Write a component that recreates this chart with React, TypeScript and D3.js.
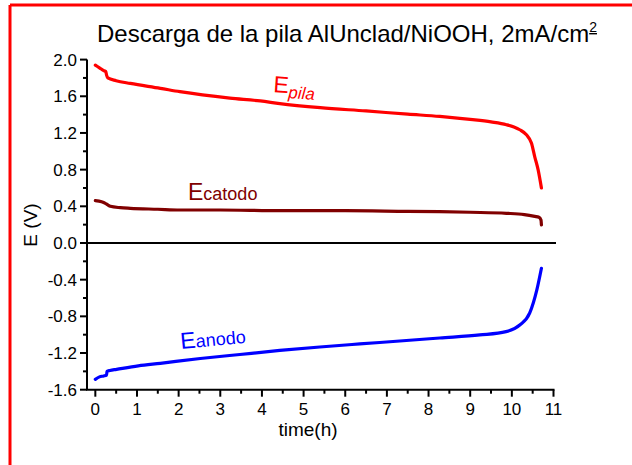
import React from "react";
import * as d3 from "d3";

// Descarga de la pila AlUnclad/NiOOH
const pilaT = [0, 0.1, 0.2, 0.25, 0.27, 0.3, 0.5, 0.84, 1.56, 2.03, 3.23, 3.96, 4.43, 5.4, 6.5, 7.5, 8.27, 8.75, 9.06, 9.5, 9.87, 10.05, 10.19, 10.35, 10.47, 10.55, 10.63, 10.71];
const pilaV = [1.94, 1.91, 1.88, 1.87, 1.83, 1.8, 1.77, 1.74, 1.687, 1.65, 1.58, 1.549, 1.52, 1.476, 1.44, 1.405, 1.38, 1.36, 1.345, 1.32, 1.29, 1.265, 1.235, 1.18, 1.09, 0.94, 0.8, 0.6];

const catodoT = [0, 0.15, 0.24, 0.3, 0.36, 0.6, 0.84, 1.5, 2.03, 3, 4.43, 6, 7.5, 8.27, 9, 9.87, 10.3, 10.55, 10.65, 10.7, 10.71];
const catodoV = [0.461, 0.45, 0.433, 0.415, 0.4, 0.385, 0.378, 0.368, 0.36, 0.36, 0.352, 0.352, 0.345, 0.342, 0.335, 0.324, 0.31, 0.29, 0.28, 0.25, 0.196];

const anodoT = [0, 0.1, 0.2, 0.27, 0.28, 0.35, 0.51, 1.03, 1.56, 2.52, 3.47, 4.43, 5.39, 6.35, 7.31, 8.27, 9.23, 9.86, 10.19, 10.43, 10.6, 10.71];
const anodoV = [-1.487, -1.46, -1.45, -1.44, -1.4, -1.39, -1.378, -1.34, -1.312, -1.26, -1.216, -1.172, -1.134, -1.101, -1.069, -1.036, -1.003, -0.967, -0.894, -0.763, -0.512, -0.276];

const xTicks = [0, 1, 2, 3, 4, 5, 6, 7, 8, 9, 10, 11];
const yTicks = [-1.6, -1.2, -0.8, -0.4, 0.0, 0.4, 0.8, 1.2, 1.6, 2.0];

const W = 632;
const H = 465;
const FONT = "'Liberation Sans', Arial, Helvetica, sans-serif";

export default function App() {
  const x = d3.scaleLinear().domain([-0.2, 11]).range([87, 553.5]);
  const y = d3.scaleLinear().domain([-1.6, 2.0]).range([389.7, 59.6]);

  const line = d3
    .line<[number, number]>()
    .x((d) => x(d[0]))
    .y((d) => y(d[1]))
    .curve(d3.curveMonotoneX);

  const series = [
    { t: pilaT, v: pilaV, color: "#ff0000" },
    { t: catodoT, v: catodoV, color: "#800000" },
    { t: anodoT, v: anodoV, color: "#0000ff" },
  ];

  // ticks menores a medio camino
  const xMinor = xTicks.slice(0, -1).map((d) => d + 0.5);
  const yMinor = yTicks.slice(0, -1).map((d) => +(d + 0.2).toFixed(1));

  const [y0, y1] = y.range();
  const [x0, x1] = x.range();

  return (
    <svg
      width={W}
      height={H}
      style={{ position: "absolute", left: 0, top: 0, background: "#fff" }}
      fontFamily={FONT}
    >
      {/* marco rojo */}
      <line x1={10} y1={5} x2={W} y2={5} stroke="#ff0000" strokeWidth={3} />
      <line x1={10} y1={5} x2={10} y2={H} stroke="#ff0000" strokeWidth={3} />

      <text x={97} y={42} fontSize={24} fill="#000">
        Descarga de la pila AlUnclad/NiOOH, 2mA/cm
        <tspan fontSize={14} dy={-10} textDecoration="underline">2</tspan>
      </text>

      {/* ejes */}
      <line x1={x0} y1={y0} x2={x0} y2={y1} stroke="#000" strokeWidth={2} />
      <line x1={x0 - 1} y1={y0} x2={x1 + 1} y2={y0} stroke="#000" strokeWidth={2} />
      <line x1={x0} y1={y(0)} x2={556} y2={y(0)} stroke="#000" strokeWidth={2} />

      {yTicks.map((d) => (
        <g key={"y" + d}>
          <line x1={x0 - 7} x2={x0} y1={y(d)} y2={y(d)} stroke="#000" strokeWidth={2} />
          <text x={x0 - 10} y={y(d)} dy="0.35em" textAnchor="end" fontSize={17}>
            {d.toFixed(1)}
          </text>
        </g>
      ))}
      {yMinor.map((d) => (
        <line key={"ym" + d} x1={x0 - 4} x2={x0} y1={y(d)} y2={y(d)} stroke="#000" strokeWidth={2} />
      ))}
      {xTicks.map((d) => (
        <g key={"x" + d}>
          <line x1={x(d)} x2={x(d)} y1={y0} y2={y0 + 7} stroke="#000" strokeWidth={2} />
          <text x={x(d)} y={415} textAnchor="middle" fontSize={17}>
            {d}
          </text>
        </g>
      ))}
      {xMinor.map((d) => (
        <line key={"xm" + d} x1={x(d)} x2={x(d)} y1={y0} y2={y0 + 4} stroke="#000" strokeWidth={2} />
      ))}

      <text x={308} y={436} textAnchor="middle" fontSize={19}>
        time(h)
      </text>
      <text transform="translate(37,225) rotate(-90)" textAnchor="middle" fontSize={19}>
        E (V)
      </text>

      {/* curvas */}
      {series.map((s, i) => (
        <path
          key={i}
          d={line(s.t.map((t, j) => [t, s.v[j]] as [number, number])) || ""}
          fill="none"
          stroke={s.color}
          strokeWidth={3.2}
          strokeLinejoin="round"
          strokeLinecap="round"
        />
      ))}

      {/* etiquetas de las curvas */}
      <text transform="translate(273,92) rotate(4)" fill="#ff0000" fontSize={23}>
        E<tspan fontSize={17} fontStyle="italic" dy={5}>pila</tspan>
      </text>
      <text x={188} y={200} fill="#800000" fontSize={23}>
        E<tspan fontSize={18}>catodo</tspan>
      </text>
      <text transform="translate(181,349) rotate(-5.5)" fill="#0000ff" fontSize={23}>
        E<tspan fontSize={18}>anodo</tspan>
      </text>
    </svg>
  );
}
